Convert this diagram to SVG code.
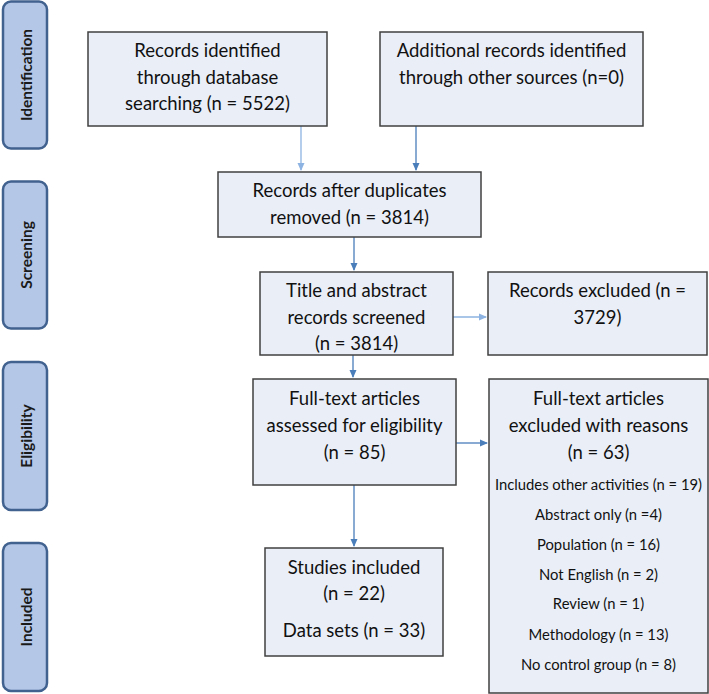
<svg xmlns="http://www.w3.org/2000/svg" width="709" height="694" viewBox="0 0 709 694">
<style>
.side rect{fill:#b4c7e7;stroke:#41618f;stroke-width:2.5}
.side text{font-family:Lato,"Open Sans",sans-serif;font-weight:bold;font-size:15.5px;fill:#1a1a1a;text-anchor:middle}
.box rect{fill:#e9eef7;stroke:#404040;stroke-width:1.5}
.box text{font-family:Lato,"Liberation Sans",sans-serif;font-size:18.5px;fill:#111;text-anchor:middle}
.box text.s{font-size:14.8px}
.c line{stroke:#4a7ebb;stroke-width:1.3;fill:none}
.c line.l{stroke:#8db3e2}
</style>
<defs>
<marker id="ah" markerWidth="8" markerHeight="8" refX="7" refY="4" orient="auto" markerUnits="userSpaceOnUse">
<path d="M0,0.5 L8,4 L0,7.5 z" fill="#4a7ebb"/>
</marker>
<marker id="ahl" markerWidth="8" markerHeight="8" refX="7" refY="4" orient="auto" markerUnits="userSpaceOnUse">
<path d="M0,0.5 L8,4 L0,7.5 z" fill="#8db3e2"/>
</marker>
</defs>

<g id="side-identification" class="side"><rect x="3" y="1.5" width="44" height="147" rx="8"/><text transform="translate(32,75) rotate(-90)">Identification</text></g>
<g id="side-screening" class="side"><rect x="3" y="181.5" width="44" height="147" rx="8"/><text transform="translate(32,255) rotate(-90)">Screening</text></g>
<g id="side-eligibility" class="side"><rect x="3" y="362" width="44" height="148" rx="8"/><text transform="translate(32,436) rotate(-90)">Eligibility</text></g>
<g id="side-included" class="side"><rect x="3" y="543" width="44" height="148" rx="8"/><text transform="translate(32,617) rotate(-90)">Included</text></g>

<g id="connectors" class="c">
<line class="l" x1="301" y1="126" x2="301" y2="170" marker-end="url(#ahl)"/>
<line x1="416" y1="126" x2="416" y2="170" marker-end="url(#ah)"/>
<line x1="354" y1="237" x2="354" y2="270" marker-end="url(#ah)"/>
<line class="l" x1="453" y1="317" x2="486" y2="317" marker-end="url(#ahl)"/>
<line x1="353" y1="355" x2="353" y2="377" marker-end="url(#ah)"/>
<line x1="456" y1="443" x2="487" y2="443" marker-end="url(#ah)"/>
<line x1="354" y1="485" x2="354" y2="546" marker-end="url(#ah)"/>
</g>

<g id="records-identified" class="box"><rect x="88" y="32" width="239" height="94"/>
<text x="207.5" y="57">Records identified</text><text x="207.5" y="84">through database</text><text x="207.5" y="110">searching (n = 5522)</text></g>

<g id="additional-records" class="box"><rect x="380" y="32" width="263" height="94"/>
<text x="511.5" y="57">Additional records identified</text><text x="511.5" y="84">through other sources (n=0)</text></g>

<g id="after-duplicates" class="box"><rect x="218" y="172" width="263" height="65"/>
<text x="349.5" y="197">Records after duplicates</text><text x="349.5" y="224">removed (n = 3814)</text></g>

<g id="screened" class="box"><rect x="260" y="272" width="193" height="83"/>
<text x="356.5" y="297">Title and abstract</text><text x="356.5" y="324">records screened</text><text x="356.5" y="350">(n = 3814)</text></g>

<g id="records-excluded" class="box"><rect x="488" y="272" width="219" height="83"/>
<text x="597.5" y="297">Records excluded (n =</text><text x="597.5" y="324">3729)</text></g>

<g id="assessed" class="box"><rect x="253" y="379" width="203" height="106"/>
<text x="354.5" y="405">Full-text articles</text><text x="354.5" y="432">assessed for eligibility</text><text x="354.5" y="459">(n = 85)</text></g>

<g id="excluded-reasons" class="box"><rect x="489" y="379" width="219" height="314"/>
<text x="598.5" y="405">Full-text articles</text><text x="598.5" y="432">excluded with reasons</text><text x="598.5" y="459">(n = 63)</text>
<text class="s" x="598.5" y="490">Includes other activities (n = 19)</text>
<text class="s" x="598.5" y="520">Abstract only (n =4)</text>
<text class="s" x="598.5" y="550">Population (n = 16)</text>
<text class="s" x="598.5" y="580">Not English (n = 2)</text>
<text class="s" x="598.5" y="609">Review (n = 1)</text>
<text class="s" x="598.5" y="640">Methodology (n = 13)</text>
<text class="s" x="598.5" y="670">No control group (n = 8)</text></g>

<g id="included" class="box"><rect x="265" y="548" width="178" height="108"/>
<text x="354" y="574">Studies included</text><text x="354" y="600">(n = 22)</text><text x="354" y="637">Data sets (n = 33)</text></g>
</svg>
